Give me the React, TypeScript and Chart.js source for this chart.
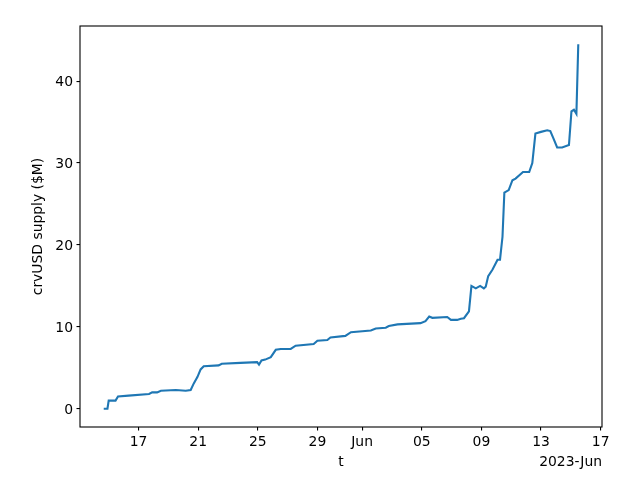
import React, { useEffect, useRef } from "react";
import { Chart, registerables } from "chart.js";

Chart.register(...registerables);

// Timestamps (UTC) of crvUSD supply observations
const times: string[] = [
  "2023-05-14T16:00", "2023-05-14T22:00", "2023-05-15T00:00", "2023-05-15T11:00",
  "2023-05-15T15:00", "2023-05-16T08:00", "2023-05-17T17:00", "2023-05-17T22:00",
  "2023-05-18T06:00", "2023-05-18T12:00", "2023-05-19T12:00", "2023-05-20T04:00",
  "2023-05-20T12:00", "2023-05-20T17:00", "2023-05-20T23:00", "2023-05-21T04:00",
  "2023-05-21T09:00", "2023-05-22T09:00", "2023-05-22T14:00", "2023-05-23T20:00",
  "2023-05-24T23:00", "2023-05-25T02:00", "2023-05-25T06:00", "2023-05-25T12:00",
  "2023-05-25T21:00", "2023-05-26T05:00", "2023-05-26T13:00", "2023-05-27T05:00",
  "2023-05-27T13:00", "2023-05-28T18:00", "2023-05-29T00:00", "2023-05-29T16:00",
  "2023-05-29T21:00", "2023-05-30T21:00", "2023-05-31T06:00", "2023-06-01T14:00",
  "2023-06-01T22:00", "2023-06-02T14:00", "2023-06-02T19:00", "2023-06-03T09:00",
  "2023-06-04T22:00", "2023-06-05T06:00", "2023-06-05T12:00", "2023-06-05T17:00",
  "2023-06-06T17:00", "2023-06-06T23:00",
  "2023-06-07T09:00", "2023-06-07T15:00", "2023-06-07T20:00", "2023-06-08T04:00",
  "2023-06-08T08:00", "2023-06-08T15:00", "2023-06-08T22:00", "2023-06-09T04:00",
  "2023-06-09T07:00", "2023-06-09T11:00", "2023-06-09T18:00", "2023-06-10T02:00",
  "2023-06-10T06:00", "2023-06-10T10:00", "2023-06-10T13:00", "2023-06-10T20:00",
  "2023-06-11T02:00", "2023-06-11T07:00", "2023-06-11T19:00", "2023-06-12T05:00",
  "2023-06-12T10:00", "2023-06-12T15:00", "2023-06-13T00:00", "2023-06-13T10:00",
  "2023-06-13T15:00", "2023-06-13T20:00", "2023-06-14T02:00", "2023-06-14T10:00",
  "2023-06-14T21:00", "2023-06-15T01:00", "2023-06-15T05:00", "2023-06-15T09:00",
  "2023-06-15T12:00",
];

// crvUSD supply in $M
const supply: number[] = [
  0.0, 0.0, 1.0, 1.0,
  1.5, 1.6, 1.8, 2.0,
  2.0, 2.2, 2.3, 2.2,
  2.3, 3.1, 3.9, 4.8,
  5.2, 5.3, 5.5, 5.6,
  5.7, 5.4, 5.9, 6.0,
  6.3, 7.2, 7.3, 7.3,
  7.7, 7.9, 8.3, 8.4,
  8.7, 8.9, 9.35, 9.55,
  9.8, 9.9, 10.1, 10.3,
  10.45, 10.7, 11.25, 11.1,
  11.2, 10.85,
  10.85, 11.0, 11.06, 11.9,
  15.0, 14.7, 15.0, 14.7,
  14.9, 16.2, 17.0, 18.2,
  18.2, 21.0, 26.4, 26.7,
  27.9, 28.1, 28.9, 28.9,
  30.0, 33.6, 33.8, 34.0,
  33.9, 33.0, 31.9, 31.9,
  32.2, 36.3, 36.5, 36.0,
  44.5,
];

const xTickDates: string[] = [
  "2023-05-17", "2023-05-21", "2023-05-25", "2023-05-29", "2023-06-01",
  "2023-06-05", "2023-06-09", "2023-06-13", "2023-06-17",
];
const xTickLabels: string[] = ["17", "21", "25", "29", "Jun", "05", "09", "13", "17"];
const yTicks: number[] = [0, 10, 20, 30, 40];
const offsetLabel = "2023-Jun";
const xTitle = "t";
const yTitle = "crvUSD supply ($M)";

const FONT = "DejaVu Sans";
const FS = 13.9;

const toMs = (s: string) => Date.parse(s.length <= 10 ? s + "T00:00:00Z" : s + ":00Z");

export default function App() {
  const ref = useRef<HTMLCanvasElement | null>(null);

  useEffect(() => {
    if (!ref.current) return;
    const xs = times.map(toMs);
    const xMinD = Math.min(...xs);
    const xMaxD = Math.max(...xs);
    const xm = (xMaxD - xMinD) * 0.05;
    const yMinD = Math.min(...supply);
    const yMaxD = Math.max(...supply);
    const ym = (yMaxD - yMinD) * 0.05;

    const framePlugin = {
      id: "frame",
      afterDraw(chart: any) {
        const { ctx, chartArea: a } = chart;
        ctx.save();
        ctx.strokeStyle = "#000";
        ctx.lineWidth = 1.1;
        ctx.strokeRect(a.left, a.top, a.right - a.left, a.bottom - a.top);
        ctx.font = `${FS}px "${FONT}"`;
        ctx.fillStyle = "#000";
        ctx.textAlign = "right";
        ctx.textBaseline = "middle";
        ctx.fillText(offsetLabel, a.right, 462);
        ctx.restore();
      },
    };

    const chart = new Chart(ref.current, {
      type: "line",
      data: {
        datasets: [
          {
            data: xs.map((x, i) => ({ x, y: supply[i] })),
            borderColor: "#1f77b4",
            borderWidth: 2.1,
            pointRadius: 0,
            tension: 0,
            fill: false,
          },
        ],
      },
      options: {
        animation: false,
        responsive: false,
        devicePixelRatio: 1,
        layout: { padding: { left: 0, right: 38, top: 26, bottom: 0 } },
        plugins: { legend: { display: false }, tooltip: { enabled: false } },
        scales: {
          x: {
            type: "linear",
            min: xMinD - xm,
            max: xMaxD + xm,
            afterBuildTicks: (scale: any) => {
              scale.ticks = xTickDates.map((d) => ({ value: toMs(d) }));
            },
            afterFit: (scale: any) => {
              scale.height = 53;
            },
            ticks: {
              autoSkip: false,
              maxRotation: 0,
              padding: 4,
              color: "#000",
              font: { family: FONT, size: FS },
              callback: (_v: any, i: number) => xTickLabels[i],
            },
            grid: {
              display: true,
              drawOnChartArea: false,
              drawTicks: true,
              tickLength: 3.5,
              color: "#000",
              lineWidth: 1.1,
            },
            border: { display: false },
            title: {
              display: true,
              text: xTitle,
              color: "#000",
              font: { family: FONT, size: FS },
              padding: { top: 0, bottom: 9.7 },
            },
          },
          y: {
            type: "linear",
            min: yMinD - ym,
            max: yMaxD + ym,
            afterBuildTicks: (scale: any) => {
              scale.ticks = yTicks.map((v) => ({ value: v }));
            },
            afterFit: (scale: any) => {
              scale.width = 80;
            },
            ticks: {
              padding: 3.5,
              labelOffset: 1.5,
              color: "#000",
              font: { family: FONT, size: FS },
              callback: (v: any) => String(v),
            },
            grid: {
              display: true,
              drawOnChartArea: false,
              drawTicks: true,
              tickLength: 3.5,
              color: "#000",
              lineWidth: 1.1,
            },
            border: { display: false },
            title: {
              display: true,
              text: yTitle,
              color: "#000",
              font: { family: FONT, size: FS },
              padding: { top: 29.7, bottom: 0 },
            },
          },
        },
      },
      plugins: [framePlugin],
    } as any);

    return () => chart.destroy();
  }, []);

  return (
    <div style={{ position: "absolute", left: 0, top: 0, width: 640, height: 480, background: "#fff" }}>
      <canvas ref={ref} width={640} height={480} style={{ width: 640, height: 480 }} />
    </div>
  );
}
